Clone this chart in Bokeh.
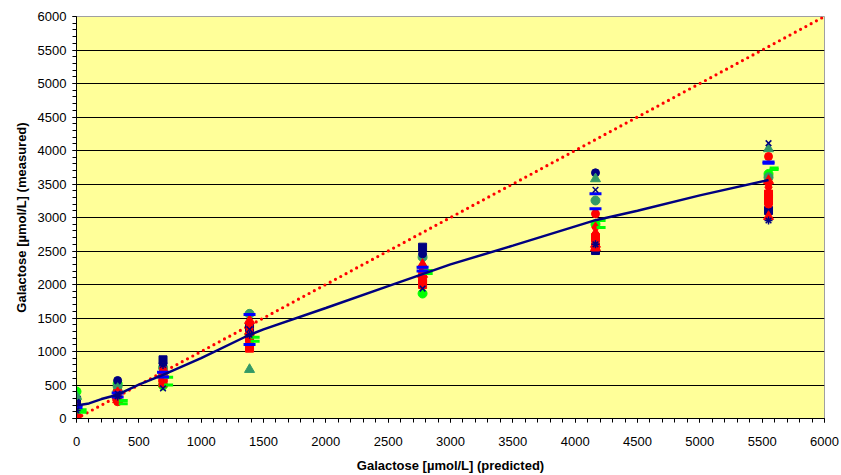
from bokeh.plotting import figure
from bokeh.models import SingleIntervalTicker, ColumnDataSource, Range1d
from bokeh.transform import dodge
from bokeh.embed import file_html
from bokeh.resources import INLINE

# predicted concentration levels (µmol/L)
levels = [0, 330, 694, 1388, 2776, 4163, 5551]

# measured values per series at each level
navy_square = [269, 373, 876, 1363, 2557, 2507, 3104]
navy_circle = [230, 567, 820, 1300, 2458, 3667, 3328]
navy_x = [250, 373, 450, 1330, 1940, 3413, 4109]
navy_asterisk = [120, 330, 800, 1250, 2500, 2600, 2955]
red_square = [100, 300, 600, 1200, 2100, 2700, 3254]
red_square_b = [40, 370, 530, 1050, 2000, 2560, 3350]
red_diamond = [150, 343, 700, 1400, 2239, 2760, 3452]
red_diamond_b = [180, 390, 750, 1340, 2270, 2850, 3500]
red_triangle = [60, 280, 650, 1462, 2150, 2600, 3015]
red_triangle_b = [90, 310, 720, 1300, 2300, 2550, 3552]
red_circle = [20, 250, 560, 1100, 2035, 3055, 3910]
red_circle_b = [130, 265, 680, 1150, 2180, 2650, 3200]
lime_circle = [403, 518, 493, 1250, 1865, 2900, 3650]
lime_dash = [94, 269, 616, 1214, 2209, 2955, 3716]
lime_dash_b = [130, 220, 500, 1154, 2164, 2850, 3740]
seagreen_triangle = [328, 448, 680, 731, 2283, 3577, 4025]
seagreen_circle = [300, 480, 760, 1562, 2408, 3254, 3600]
blue_dash = [194, 380, 691, 1552, 2258, 3354, 3810]
blue_dash_b = [160, 320, 620, 1104, 2200, 3130, 3830]

# smoothed fit through the measurements
fit_x = [0, 100, 200, 330, 500, 694, 1000, 1388, 1500, 2000, 2500, 2776, 3000, 3500, 4163, 4500, 5000, 5551]
fit_y = [195, 225, 290, 355, 505, 650, 900, 1250, 1330, 1650, 1975, 2155, 2300, 2580, 2960, 3100, 3330, 3560]

# line of identity
identity_x = [0, 6000]
identity_y = [0, 6000]

NAVY = "#000080"
RED = "#FF0000"
LIME = "#00FF00"
SEA = "#339966"
BLUE = "#0000FF"
FONT = "Liberation Sans"

p = figure(width=841, height=475, output_backend="svg", toolbar_location=None,
           x_range=Range1d(0, 6000), y_range=Range1d(0, 6000),
           min_border_left=76, min_border_right=17, min_border_top=16, min_border_bottom=57)
p.background_fill_color = "#FFFF99"
p.border_fill_color = "white"
p.outline_line_color = "#A0A0A0"
p.outline_line_width = 1

for ax in (p.xaxis[0], p.yaxis[0]):
    ax.ticker = SingleIntervalTicker(interval=500, num_minor_ticks=5)
    ax.axis_line_color = "black"
    ax.major_tick_line_color = "black"
    ax.minor_tick_line_color = "black"
    ax.major_tick_out = 4
    ax.major_tick_in = 0
    ax.minor_tick_out = 4
    ax.minor_tick_in = 0
    ax.major_label_text_font = FONT
    ax.major_label_text_font_size = "13px"
    ax.major_label_text_color = "black"
    ax.axis_label_text_font = FONT
    ax.axis_label_text_font_size = "13px"
    ax.axis_label_text_font_style = "bold"
    ax.axis_label_text_color = "black"

p.xaxis.axis_label = "Galactose [µmol/L] (predicted)"
p.yaxis.axis_label = "Galactose [µmol/L] (measured)"
p.xaxis.major_label_standoff = 14
p.xaxis.axis_label_standoff = 9
p.yaxis.major_label_standoff = 6
p.yaxis.axis_label_standoff = 6

p.xgrid.visible = False
p.ygrid.grid_line_color = "black"
p.ygrid.grid_line_width = 1
p.ygrid.ticker = SingleIntervalTicker(interval=500)

# identity (dotted red)
p.line(identity_x, identity_y, line_color=RED, line_width=3.2, line_dash="0 6", line_cap="round")

series = [
    (lime_circle, "circle", LIME, 9, 0),
    (seagreen_circle, "circle", SEA, 9, 0),
    (navy_circle, "circle", NAVY, 8, 0),
    (navy_square, "square", NAVY, 8, 0),
    (seagreen_triangle, "triangle", SEA, 10, 0),
    (red_square, "square", RED, 8, 0),
    (red_square_b, "square", RED, 8, 0),
    (red_circle, "circle", RED, 8, 0),
    (red_circle_b, "circle", RED, 8, 0),
    (red_diamond, "diamond", RED, 11, 0),
    (red_diamond_b, "diamond", RED, 11, 0),
    (red_triangle, "triangle", RED, 10, 0),
    (red_triangle_b, "triangle", RED, 10, 0),
    (lime_dash, "dash", LIME, 9, 45),
    (lime_dash_b, "dash", LIME, 9, 45),
    (blue_dash, "dash", BLUE, 12, 0),
    (blue_dash_b, "dash", BLUE, 12, 0),
    (navy_x, "x", NAVY, 8, 0),
    (navy_asterisk, "asterisk", NAVY, 8, 0),
]

for vals, marker, color, size, offset in series:
    src = ColumnDataSource(dict(x=levels, y=vals))
    lw = 3 if marker == "dash" else (1.5 if marker in ("x", "asterisk") else 1)
    p.scatter(x=dodge("x", offset, range=p.x_range), y="y", source=src, marker=marker,
              size=size, fill_color=color, line_color=color, line_width=lw)

# fitted curve
p.line(fit_x, fit_y, line_color=NAVY, line_width=2.5)

open("out.html", "w").write(file_html(p, INLINE))
